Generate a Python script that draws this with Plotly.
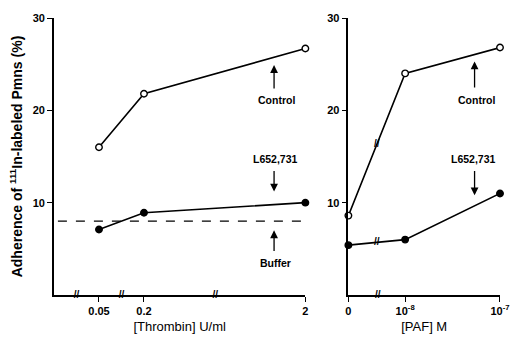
import plotly.graph_objects as go

# ---------------- data ----------------
thr_labels = ["0.05", "0.2", "2"]
thr_pos = [46, 92, 257]          # broken-axis positions of the thrombin doses
thr_control = [16.0, 21.8, 26.7]
thr_l652 = [7.1, 8.9, 10.0]
buffer_level = 8.0
thr_axis_breaks = [23, 69, 165]

paf_labels = ["0", "10<sup>-8</sup>", "10<sup>-7</sup>"]
paf_pos = [0, 58, 155]
paf_control = [8.6, 24.0, 26.8]
paf_l652 = [5.4, 6.0, 11.0]
paf_axis_breaks = [30]

FONT = "Liberation Sans, Arial, sans-serif"
fig = go.Figure()

def series(x, y, xa, ya, filled):
    fig.add_trace(go.Scatter(
        x=x, y=y, xaxis=xa, yaxis=ya, mode="lines+markers", cliponaxis=False,
        line=dict(color="black", width=1.6),
        marker=dict(size=6.5, color="black" if filled else "white",
                    line=dict(color="black", width=1.4)),
        showlegend=False, hoverinfo="skip"))

series(thr_pos, thr_control, "x", "y", False)
series(thr_pos, thr_l652, "x", "y", True)
fig.add_trace(go.Scatter(x=[4, thr_pos[-1]], y=[buffer_level, buffer_level],
                         xaxis="x", yaxis="y", mode="lines",
                         line=dict(color="black", width=1.4, dash="dash"),
                         showlegend=False, hoverinfo="skip"))
series(paf_pos, paf_control, "x2", "y2", False)
series(paf_pos, paf_l652, "x2", "y2", True)

# break marks on axes and on lines
def brk(x, y, xa, ya):
    fig.add_trace(go.Scatter(x=x, y=y, xaxis=xa, yaxis=ya, mode="text",
                             cliponaxis=False, text=["<b>//</b>"] * len(x),
                             textfont=dict(size=10, color="black", family=FONT),
                             showlegend=False, hoverinfo="skip"))

brk(thr_axis_breaks, [0] * len(thr_axis_breaks), "x", "y")
brk(paf_axis_breaks, [0], "x2", "y2")
mid = paf_pos[1] / 2
brk([mid], [paf_control[0] + (paf_control[1] - paf_control[0]) / 2], "x2", "y2")
brk([mid], [paf_l652[0] + (paf_l652[1] - paf_l652[0]) / 2], "x2", "y2")

ann = []
def label(text, x, y, xr, yr):
    ann.append(dict(text=text, x=x, y=y, xref=xr, yref=yr, showarrow=False,
                    font=dict(size=10.5, color="black", family=FONT)))
def arrow(x, y0, y1, xr, yr):
    ann.append(dict(x=x, y=y1, ax=x, ay=y0, xref=xr, yref=yr, axref=xr, ayref=yr,
                    text="", showarrow=True, arrowhead=2, arrowsize=1.2,
                    arrowwidth=1.3, arrowcolor="black", standoff=0))

label("<b>Control</b>", 227, 21.1, "x", "y"); arrow(225, 22.2, 24.9, "x", "y")
label("<b>L652,731</b>", 226, 14.7, "x", "y"); arrow(225, 13.6, 11.2, "x", "y")
label("<b>Buffer</b>", 226, 3.5, "x", "y"); arrow(225, 4.6, 7.0, "x", "y")
label("<b>Control</b>", 131, 21.1, "x2", "y2"); arrow(129, 22.3, 25.3, "x2", "y2")
label("<b>L652,731</b>", 128, 14.7, "x2", "y2"); arrow(129, 13.6, 10.8, "x2", "y2")

axis_common = dict(showline=True, linecolor="black", linewidth=1.6, showgrid=False,
                   zeroline=False, ticks="outside", ticklen=5, tickwidth=1.3,
                   tickcolor="black",
                   tickfont=dict(size=11, color="black", family=FONT))

fig.update_layout(
    width=522, height=344, margin=dict(l=54, r=12, t=15, b=48),
    plot_bgcolor="white", paper_bgcolor="white",
    xaxis=dict(axis_common, domain=[0, 257 / 456], range=[0, thr_pos[-1]],
               tickvals=thr_pos, ticktext=["<b>%s</b>" % t for t in thr_labels],
               title=dict(text="[Thrombin] U/ml", standoff=6,
                          font=dict(size=13, color="black", family=FONT))),
    yaxis=dict(axis_common, range=[0, 30], tickvals=[10, 20, 30],
               ticktext=["<b>10</b>", "<b>20</b>", "<b>30</b>"],
               title=dict(text="<b>Adherence of <sup>111</sup>In-labeled Pmns (%)</b>",
                          standoff=7,
                          font=dict(size=14, color="black", family=FONT))),
    xaxis2=dict(axis_common, domain=[301 / 456, 1], range=[0, paf_pos[-1]],
                tickvals=paf_pos, ticktext=["<b>%s</b>" % t for t in paf_labels],
                anchor="y2",
                title=dict(text="[PAF] M", standoff=6,
                           font=dict(size=13, color="black", family=FONT))),
    yaxis2=dict(axis_common, range=[0, 30], tickvals=[10, 20, 30],
                ticktext=["<b>10</b>", "<b>20</b>", "<b>30</b>"], anchor="x2"),
    annotations=ann,
)

fig.write_html("out.html")
